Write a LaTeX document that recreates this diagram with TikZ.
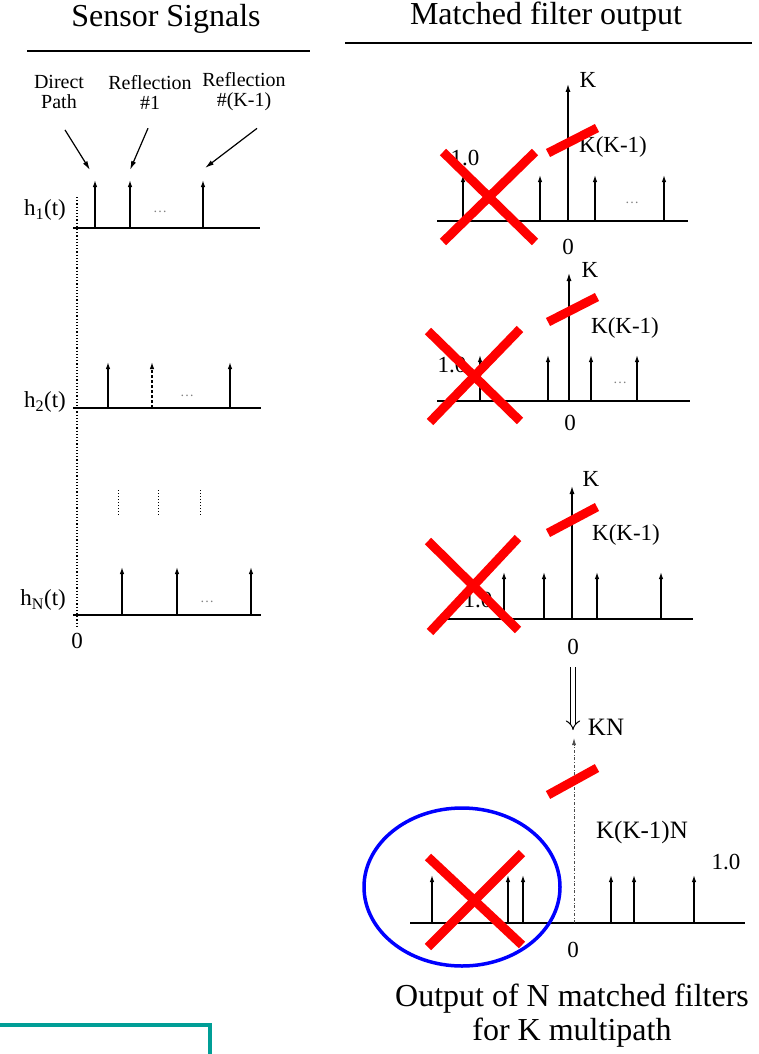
\documentclass[tikz,border=0pt]{standalone}
\usepackage{fontspec}
\setmainfont{Liberation Serif}
\usetikzlibrary{positioning,arrows.meta}
\definecolor{boxteal}{RGB}{0,158,150}
\tikzset{
  stemarrow/.style={-{Latex[length=7pt,width=4.5pt]}, line width=1.3pt},
  mainstem/.style={-{Latex[length=9pt,width=5pt]}, line width=1.8pt},
  axisline/.style={line width=2pt},
  pointarrow/.style={-{Latex[length=9pt,width=5pt]}, line width=1.2pt},
  titletext/.style={font=\fontsize{32}{34}\selectfont, inner sep=0pt},
  labeltext/.style={font=\fontsize{23}{25}\selectfont, inner sep=1pt},
  pathtext/.style={font=\fontsize{20}{20}\selectfont, align=center, inner sep=1pt},
  dotstext/.style={font=\fontsize{14}{14}\selectfont, gray, inner sep=0pt},
  crossmark/.style={red, line width=9pt},
  ringmark/.style={blue, line width=3.5pt}
}
\begin{document}
\begin{tikzpicture}[x=1pt, y=-1pt]
  \useasboundingbox (0,0) rectangle (758,1054);

  % titles
  \node[titletext] (sensortitle) at (166,19) {Sensor Signals};
  \node[titletext] (mftitle) at (546,17) {Matched filter output};
  \draw[line width=1.5pt] (27,51) -- (310,51);
  \draw[line width=1.5pt] (345,43) -- (752,43);

  % sensor signals
  \node[pathtext] (direct) at (59,92) {Direct\\Path};
  \node[pathtext] (refl1) at (150,92) {Reflection\\\#1};
  \node[pathtext] (reflk) at (244,92) {Reflection\\\#(K-1)};
  \coordinate (tip1) at (90,170);
  \coordinate (tip2) at (130,170);
  \coordinate (tip3) at (205,168);
  \draw[pointarrow] ([xshift=6pt,yshift=-20pt]direct.south) -- (tip1);
  \draw[pointarrow] ([xshift=-2pt,yshift=-18pt]refl1.south) -- (tip2);
  \draw[pointarrow] ([xshift=13pt,yshift=-16pt]reflk.south) -- (tip3);

  \draw[dotted, line width=1.2pt] (77,197) -- (77,628);
  \node[labeltext, anchor=east] (h1) at (67,210) {h\textsubscript{1}(t)};
  \node[labeltext, anchor=east] (h2) at (67,402) {h\textsubscript{2}(t)};
  \node[labeltext, anchor=east] (hN) at (67,600) {h\textsubscript{N}(t)};
  \node[labeltext] (zeroleft) at (77,641) {0};

  \draw[axisline] (73,228) -- (260,228);
  \foreach \x in {95,130,203} \draw[stemarrow] (\x,228) -- (\x,180);
  \node[dotstext] (dots1) at (160,212) {\dots};

  \draw[axisline] (73,408) -- (261,408);
  \foreach \x in {108,230} \draw[stemarrow] (\x,408) -- (\x,362);
  \draw[stemarrow, densely dashed] (152,408) -- (152,362);
  \node[dotstext] (dots2) at (187,396) {\dots};

  \foreach \x in {118,158,200} \draw[dotted, line width=1pt] (\x,490) -- (\x,515);

  \draw[axisline] (73,615) -- (261,615);
  \foreach \x in {122,177,251} \draw[stemarrow] (\x,615) -- (\x,567);
  \node[dotstext] (dotsN) at (207,602) {\dots};

  % matched filter output 1
  \node[labeltext] (one1) at (465,158) {1.0};
  \draw[axisline] (437,221) -- (688,221);
  \draw[mainstem] (568,221) -- (568,83);
  \foreach \x in {463,540,595,664} \draw[stemarrow] (\x,221) -- (\x,175);
  \node[labeltext] (k1) at (588,80) {K};
  \node[labeltext] (kk1) at (613,147) {K(K-1)};
  \node[labeltext] (zero1) at (568,247) {0};
  \node[dotstext] (dotsm1) at (632,203) {\dots};
  \draw[crossmark] (443,152) -- (535,242);
  \draw[crossmark] (535,152) -- (443,242);
  \draw[crossmark] (548,153) -- (597,128);

  % matched filter output 2
  \node[labeltext] (one2) at (452,365) {1.0};
  \draw[axisline] (437,401) -- (690,401);
  \draw[mainstem] (569,401) -- (569,272);
  \foreach \x in {480,548,591,637} \draw[stemarrow] (\x,401) -- (\x,355);
  \node[labeltext] (k2) at (590,270) {K};
  \node[labeltext] (kk2) at (625,328) {K(K-1)};
  \node[labeltext] (zero2) at (570,423) {0};
  \node[dotstext] (dotsm2) at (620,383) {\dots};
  \draw[crossmark] (428,331) -- (520,421);
  \draw[crossmark] (520,329) -- (430,422);
  \draw[crossmark] (548,322) -- (597,297);

  % matched filter output N
  \node[labeltext] (one3) at (478,600) {1.0};
  \draw[axisline] (437,619) -- (693,619);
  \draw[mainstem] (572,619) -- (572,485);
  \foreach \x in {504,544,597,661} \draw[stemarrow] (\x,619) -- (\x,572);
  \node[labeltext] (k3) at (591,479) {K};
  \node[labeltext] (kk3) at (626,535) {K(K-1)};
  \node[labeltext] (zero3) at (573,647) {0};
  \draw[crossmark] (428,541) -- (518,630);
  \draw[crossmark] (518,538) -- (430,632);
  \draw[crossmark] (548,533) -- (597,507);

  % sum
  \coordinate (sumtop) at (573,667);
  \coordinate (sumtip) at (573,730);
  \draw[double, double distance=4pt, line width=1pt, -{Implies}] (sumtop) -- (sumtip);
  \node[labeltext, font=\fontsize{25}{27}\selectfont] (kn) at (606,727) {KN};

  \draw[axisline] (410,923) -- (745,923);
  \draw[-{Latex[length=7pt,width=4pt]}, dash dot, line width=0.8pt, gray!60!black] (574,923) -- (574,738);
  \foreach \x in {432,508,523,611,634,694} \draw[stemarrow] (\x,923) -- (\x,875);
  \node[labeltext, font=\fontsize{25}{27}\selectfont] (kkn) at (642,832) {K(K-1)N};
  \node[labeltext] (onen) at (726,862) {1.0};
  \node[labeltext] (zeron) at (573,950) {0};
  \draw[crossmark] (428,857) -- (522,945);
  \draw[crossmark] (522,853) -- (428,947);
  \draw[crossmark] (548,795) -- (597,768);
  \draw[ringmark] (462,887) ellipse [x radius=98, y radius=79];

  \node[titletext, align=center] (caption) at (572,1016) {Output of N matched filters\\for K multipath};

  \draw[boxteal, line width=4pt] (-5,1025) -| (210,1060);
\end{tikzpicture}
\end{document}
